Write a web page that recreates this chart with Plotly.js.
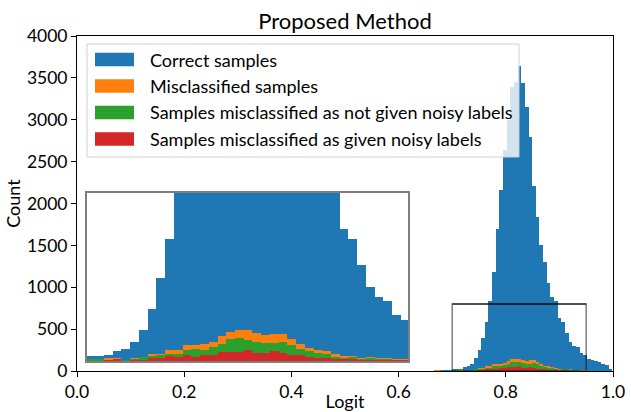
<!DOCTYPE html>
<html>
<head>
<meta charset="utf-8">
<script src="https://cdn.plot.ly/plotly-3.0.1.min.js"></script>
<style>html,body{margin:0;padding:0;background:#fff;}#chart{width:631px;height:412px;}</style>
</head>
<body>
<div id="chart"></div>
<script>
// Histogram bins (left edge of first bin and common width, in Logit units)
const binStart = 0.65204;
const binWidth = 0.0068;

// Counts per bin
const correctSamples = [3, 5, 6, 8, 10, 12, 15, 22, 22, 27, 46, 55, 89, 150, 250, 393, 583,
  839, 1186, 1692, 2161, 2640, 3000, 3390, 3450, 3640, 3435, 3149, 2790, 2209, 1843, 1504, 1305, 1047, 887, 839,
  627, 580, 456, 352, 304, 285, 219, 195, 143, 131, 119, 107, 84, 68, 28];
const misclassified = [0, 0, 8, 8, 0, 0, 4, 10, 10, 14, 12, 5, 14, 19, 35, 32, 54,
  54, 78, 78, 83, 92, 121, 140, 149, 149, 133, 124, 130, 130, 105, 83, 63, 54, 48, 35,
  25, 25, 14, 19, 14, 14, 10, 8, 5, 0, 4, 0, 3, 0, 0];
const notGivenNoisy = [0, 0, 3, 3, 0, 0, 3, 10, 10, 6, 4, 3, 8, 19, 25, 29, 35,
  35, 54, 59, 54, 68, 83, 105, 111, 102, 92, 87, 87, 92, 78, 59, 48, 40, 35, 21,
  16, 19, 10, 13, 10, 10, 6, 5, 3, 0, 2, 0, 2, 0, 0];
const givenNoisy = [0, 0, 0, 0, 0, 0, 0, 0, 0, 3, 8, 2, 3, 3, 16, 16, 25,
  21, 29, 21, 30, 30, 44, 44, 44, 54, 40, 40, 48, 40, 29, 29, 21, 16, 16, 10,
  8, 8, 6, 6, 4, 4, 3, 3, 2, 0, 0, 0, 0, 0, 0];

const seriesNames = ['Correct samples', 'Misclassified samples',
  'Samples misclassified as not given noisy labels', 'Samples misclassified as given noisy labels'];
const seriesColors = ['#1f77b4', '#ff7f0e', '#2ca02c', '#d62728'];
const seriesValues = [correctSamples, misclassified, notGivenNoisy, givenNoisy];

const xTickVals = [0, 0.2, 0.4, 0.6, 0.8, 1.0];
const xTickText = ['0.0', '0.2', '0.4', '0.6', '0.8', '1.0'];
const yTickVals = [0, 500, 1000, 1500, 2000, 2500, 3000, 3500, 4000];
const insetRangeX = [0.7, 0.95];
const insetRangeY = [0, 800];

const centers = correctSamples.map((_, i) => binStart + binWidth * (i + 0.5));

// layout helpers: pixel -> paper fraction of the main plot area
const PL = 77, PR = 613, PT = 36, PB = 371;
const px = x => (x - PL) / (PR - PL);
const py = y => (PB - y) / (PB - PT);

const traces = [];
['x', 'x2'].forEach((xa, k) => {
  seriesValues.forEach((vals, s) => {
    traces.push({
      type: 'bar', x: centers, y: vals, width: binWidth,
      name: seriesNames[s], showlegend: false, hoverinfo: 'skip',
      marker: {color: seriesColors[s], line: {width: 0}},
      xaxis: xa, yaxis: k === 0 ? 'y' : 'y2'
    });
  });
});

const FONT = 'Lato, "Open Sans", sans-serif';
const shapes = [
  // zoom indicator rectangle in main axes
  {type: 'rect', xref: 'x', yref: 'y', x0: insetRangeX[0], x1: insetRangeX[1], y0: insetRangeY[0], y1: insetRangeY[1],
   line: {color: 'rgba(0,0,0,0.5)', width: 1.5}, fillcolor: 'rgba(0,0,0,0)', layer: 'above'},
  {type: 'line', xref: 'x', yref: 'y', x0: insetRangeX[0], x1: insetRangeX[1], y0: insetRangeY[1], y1: insetRangeY[1],
   line: {color: '#000', width: 1}, layer: 'above'},
  // legend box
  {type: 'rect', xref: 'paper', yref: 'paper', x0: px(87), x1: px(519), y0: py(157), y1: py(44),
   line: {color: '#d0d0d0', width: 1}, fillcolor: 'rgba(255,255,255,0.8)', layer: 'above'}
];
const annotations = [];
const rows = [59.5, 86, 112.5, 139];
rows.forEach((r, s) => {
  shapes.push({type: 'rect', xref: 'paper', yref: 'paper', x0: px(95), x1: px(134), y0: py(r + 6.8), y1: py(r - 6.8),
    line: {width: 0}, fillcolor: seriesColors[s], layer: 'above'});
  annotations.push({xref: 'paper', yref: 'paper', x: px(148), y: py(r), xanchor: 'left', yanchor: 'middle',
    text: seriesNames[s], showarrow: false, font: {family: FONT, size: 18, color: '#000'}});
});

const layout = {
  width: 631, height: 412,
  margin: {l: PL, r: 631 - PR, t: PT, b: 412 - PB, pad: 0},
  paper_bgcolor: '#fff', plot_bgcolor: '#fff',
  font: {family: FONT, size: 17, color: '#000'},
  showlegend: false,
  barmode: 'overlay', bargap: 0,
  title: {text: 'Proposed Method', font: {family: FONT, size: 22, color: '#000'},
          x: 0.5, xref: 'paper', y: 1 - 21 / 412, yref: 'container', yanchor: 'middle'},
  xaxis: {range: [0, 1], tickvals: xTickVals, ticktext: xTickText, ticks: 'outside', ticklen: 5, tickcolor: '#000',
          showline: true, mirror: true, linecolor: '#000', linewidth: 1, showgrid: false, zeroline: false,
          tickfont: {family: FONT, size: 17.5}, title: {text: 'Logit', font: {family: FONT, size: 18}, standoff: 9}},
  yaxis: {range: [0, 4000], tickvals: yTickVals, ticks: 'outside', ticklen: 5, tickcolor: '#000',
          showline: true, mirror: true, linecolor: '#000', linewidth: 1, showgrid: false, zeroline: false,
          tickfont: {family: FONT, size: 17.5}, title: {text: 'Count', font: {family: FONT, size: 18}, standoff: 1}},
  xaxis2: {domain: [px(87), px(408)], range: insetRangeX, anchor: 'y2', showticklabels: false, ticks: '',
           showline: true, mirror: true, linecolor: 'rgba(0,0,0,0.5)', linewidth: 2, showgrid: false, zeroline: false},
  yaxis2: {domain: [py(361), py(193)], range: insetRangeY, anchor: 'x2', showticklabels: false, ticks: '',
           showline: true, mirror: true, linecolor: 'rgba(0,0,0,0.5)', linewidth: 2, showgrid: false, zeroline: false},
  shapes: shapes,
  annotations: annotations
};

Plotly.newPlot('chart', traces, layout, {displayModeBar: false, staticPlot: true});
</script>
</body>
</html>
